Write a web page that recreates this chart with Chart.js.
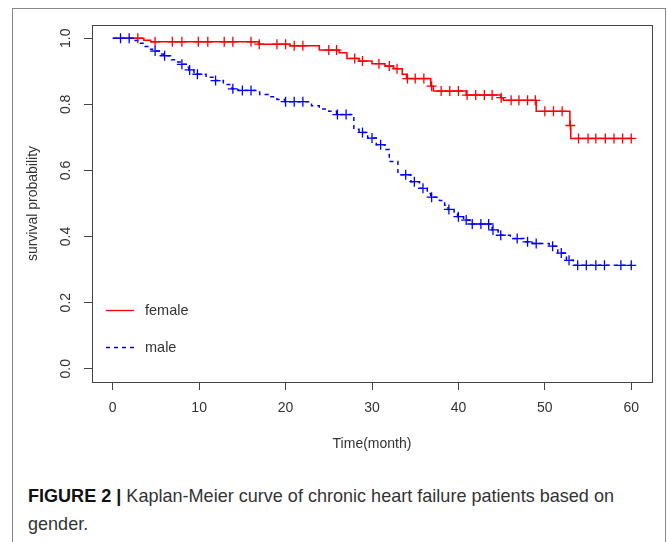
<!DOCTYPE html>
<html>
<head>
<meta charset="utf-8">
<script src="https://cdn.jsdelivr.net/npm/chart.js@4.4.0/dist/chart.umd.min.js"></script>
<style>
  html, body { margin: 0; padding: 0; background: #fff; }
  #page { position: relative; width: 667px; height: 542px; overflow: hidden; }
  #frame { position: absolute; left: 12px; top: 8px; width: 654px; height: 600px; border: 1px solid #888; box-sizing: border-box; }
  #plot { position: absolute; left: 0; top: 0; }
  #caption { position: absolute; left: 28px; top: 482px; white-space: nowrap; transform-origin: 0 0;
    font-family: "Liberation Sans", Arial, sans-serif; font-size: 19px; line-height: 28px; color: #333; }
  #caption b { color: #111; }
</style>
</head>
<body>
<div id="page">
  <div id="frame"></div>
  <canvas id="plot" width="667" height="470"></canvas>
  <div id="caption"><span id="line1"><b>FIGURE 2 |</b> Kaplan-Meier curve of chronic heart failure patients based on</span><br>gender.</div>
</div>
<script>
// survival curves (time in months, step value from that time on)
const femaleTimes = [0, 3.6, 4.4, 16.9, 20.5, 23.9, 26.2, 27.1, 28.5, 30.0, 31.5, 32.5, 33.5, 34.0, 36.8, 37.1, 40.9, 44.9, 45.2, 49.0, 52.9, 53.0, 60];
const femaleSurv  = [1.0, 0.994, 0.989, 0.982, 0.977, 0.964, 0.956, 0.939, 0.931, 0.923, 0.916, 0.908, 0.891, 0.878, 0.855, 0.840, 0.828, 0.820, 0.812, 0.779, 0.736, 0.697, 0.697];
const femaleCensor = [2.9, 4.9, 6.9, 8.0, 9.9, 11.0, 12.9, 13.9, 16.0, 16.95, 19.0, 20.0, 21.0, 22.0, 25.0, 25.9, 28.0, 28.9, 30.8, 32.0, 32.9,
  34.1, 35.0, 36.0, 36.9, 38.0, 39.0, 40.0, 41.0, 42.0, 43.0, 43.9, 44.95, 46.1, 47.0, 48.0, 48.9, 50.0, 51.0, 52.0, 52.95,
  53.9, 55.0, 55.9, 57.0, 58.0, 59.0, 60.0];

const maleTimes = [0, 2.4, 3.0, 3.6, 4.2, 4.6, 5.5, 5.9, 6.8, 7.4, 7.9, 8.5, 8.8, 9.4, 9.7, 10.8, 11.8, 12.8, 13.8, 14.5, 17.0,
  18.0, 19.0, 19.9, 23.0, 23.9, 25.0, 25.9, 27.9, 28.5, 29.5, 30.5, 31.5, 32.0, 33.0, 34.5, 35.5, 36.4, 36.8, 37.8, 38.4,
  38.8, 39.5, 39.9, 40.6, 41.3, 43.9, 44.6, 46.0, 47.6, 48.6, 50.5, 51.5, 52.5, 53.3, 60];
const maleSurv = [1.0, 0.993, 0.985, 0.975, 0.967, 0.961, 0.952, 0.947, 0.935, 0.928, 0.921, 0.912, 0.904, 0.897, 0.891, 0.882,
  0.872, 0.860, 0.847, 0.842, 0.830, 0.823, 0.815, 0.808, 0.796, 0.786, 0.779, 0.769, 0.725, 0.715, 0.698, 0.678, 0.663,
  0.627, 0.587, 0.566, 0.546, 0.530, 0.519, 0.509, 0.495, 0.482, 0.470, 0.460, 0.450, 0.438, 0.420, 0.404, 0.394, 0.384,
  0.379, 0.371, 0.350, 0.328, 0.313, 0.313];
const maleCensor = [0.9, 1.9, 4.9, 6.0, 8.0, 8.9, 9.8, 11.9, 13.9, 15.0, 16.0, 20.0, 21.0, 22.0, 26.0, 27.0, 28.9, 30.0, 31.0,
  33.9, 34.9, 35.9, 36.9, 38.9, 40.0, 40.9, 41.6, 42.6, 43.5, 44.0, 44.9, 46.8, 48.0, 49.0, 50.9, 51.9, 52.8,
  53.8, 54.8, 55.9, 56.9, 58.8, 60.0];

const seriesNames = ['female', 'male'];
const xTicks = [0, 10, 20, 30, 40, 50, 60];
const yTicks = [0, 0.2, 0.4, 0.6, 0.8, 1.0];
const yTickLabels = ['0.0', '0.2', '0.4', '0.6', '0.8', '1.0'];

const RED = 'rgb(255,0,0)';
const BLUE = 'rgb(0,0,255)';
const AXIS = '#444';
const FONT = '"Liberation Sans", Arial, sans-serif';

// value of the step curve at time t
function survAt(times, surv, t) {
    let v = surv[0];
    for (let i = 0; i < times.length; i++) {
        if (times[i] <= t) v = surv[i];
    }
    return v;
}

function curve(times, surv) {
    return times.map((t, i) => ({ x: t, y: surv[i] }));
}

function marks(censor, times, surv) {
    return censor.map(t => ({ x: t, y: survAt(times, surv, t) }));
}

// box around the plot region
const boxPlugin = {
    id: 'plotBox',
    afterDraw(chart) {
        const a = chart.chartArea, c = chart.ctx;
        c.save();
        c.strokeStyle = AXIS;
        c.lineWidth = 1;
        c.strokeRect(Math.round(a.left) + 0.5, Math.round(a.top) + 0.5,
            Math.round(a.right - a.left), Math.round(a.bottom - a.top));
        c.restore();
    }
};

// rotated y tick labels, R style
const yLabelPlugin = {
    id: 'yTickLabels',
    afterDraw(chart) {
        const s = chart.scales.y, c = chart.ctx;
        c.save();
        c.font = '14px ' + FONT;
        c.fillStyle = '#333';
        c.textAlign = 'center';
        c.textBaseline = 'middle';
        s.ticks.forEach((t, i) => {
            c.save();
            c.translate(s.right - 26, s.getPixelForValue(t.value));
            c.rotate(-Math.PI / 2);
            c.fillText(yTickLabels[i], 0, 0);
            c.restore();
        });
        c.restore();
    }
};

// legend inside the plot, bottom left, no frame
const legendPlugin = {
    id: 'insetLegend',
    afterDraw(chart) {
        const a = chart.chartArea, c = chart.ctx;
        const rows = [
            { label: seriesNames[0], color: RED, dash: [], dy: 72 },
            { label: seriesNames[1], color: BLUE, dash: [4, 4], dy: 35 }
        ];
        c.save();
        c.font = '14.5px ' + FONT;
        c.textBaseline = 'middle';
        c.textAlign = 'left';
        rows.forEach(r => {
            const y = Math.round(a.bottom - r.dy) + 0.5;
            c.strokeStyle = r.color;
            c.lineWidth = 1.3;
            c.setLineDash(r.dash);
            c.beginPath();
            c.moveTo(a.left + 14, y);
            c.lineTo(a.left + 42, y);
            c.stroke();
            c.setLineDash([]);
            c.fillStyle = '#333';
            c.fillText(r.label, a.left + 53, y);
        });
        c.restore();
    }
};

const axisGrid = { drawOnChartArea: false, drawTicks: true, tickLength: 8, color: AXIS, lineWidth: 1 };

new Chart(document.getElementById('plot'), {
    type: 'line',
    data: {
        datasets: [
            {
                label: seriesNames[0], data: curve(femaleTimes, femaleSurv), stepped: 'before',
                borderColor: RED, borderWidth: 1.5, pointRadius: 0, fill: false, order: 2
            },
            {
                label: seriesNames[0] + ' censored', data: marks(femaleCensor, femaleTimes, femaleSurv), showLine: false,
                pointStyle: 'cross', pointRadius: 5, pointBorderColor: RED, pointBackgroundColor: RED,
                pointBorderWidth: 1.3, borderColor: RED, order: 2
            },
            {
                label: seriesNames[1], data: curve(maleTimes, maleSurv), stepped: 'before',
                borderColor: BLUE, borderWidth: 1.5, borderDash: [4, 4], pointRadius: 0, fill: false, order: 1
            },
            {
                label: seriesNames[1] + ' censored', data: marks(maleCensor, maleTimes, maleSurv), showLine: false,
                pointStyle: 'cross', pointRadius: 5, pointBorderColor: BLUE, pointBackgroundColor: BLUE,
                pointBorderWidth: 1.3, borderColor: BLUE, order: 1
            }
        ]
    },
    options: {
        responsive: false,
        animation: false,
        events: [],
        layout: { padding: { left: 0, top: 25, right: 15, bottom: 0 } },
        plugins: { legend: { display: false }, tooltip: { enabled: false } },
        scales: {
            x: {
                type: 'linear', min: -2.4, max: 62.4,
                afterBuildTicks: s => { s.ticks = xTicks.map(v => ({ value: v })); },
                afterFit: s => { s.height = 88; },
                grid: axisGrid,
                border: { display: true, color: AXIS, width: 1 },
                ticks: { font: { family: FONT, size: 14 }, color: '#333', padding: 10, maxRotation: 0, autoSkip: false },
                title: { display: true, text: 'Time(month)', font: { family: FONT, size: 14 }, color: '#333',
                    padding: { top: 0, bottom: 17.6 } }
            },
            y: {
                type: 'linear', min: -0.04, max: 1.04,
                afterBuildTicks: s => { s.ticks = yTicks.map(v => ({ value: v })); },
                afterFit: s => { s.width = 92; },
                grid: axisGrid,
                border: { display: true, color: AXIS, width: 1 },
                ticks: { display: false },
                title: { display: true, text: 'survival probability', font: { family: FONT, size: 14 }, color: '#333',
                    padding: { top: 24.6, bottom: 0 } }
            }
        }
    },
    plugins: [boxPlugin, yLabelPlugin, legendPlugin]
});

// squeeze the caption to the condensed width of the original
const cap = document.getElementById('caption');
const w = document.getElementById('line1').getBoundingClientRect().width;
cap.style.transform = 'scaleX(' + (586 / w).toFixed(3) + ')';
</script>
</body>
</html>
